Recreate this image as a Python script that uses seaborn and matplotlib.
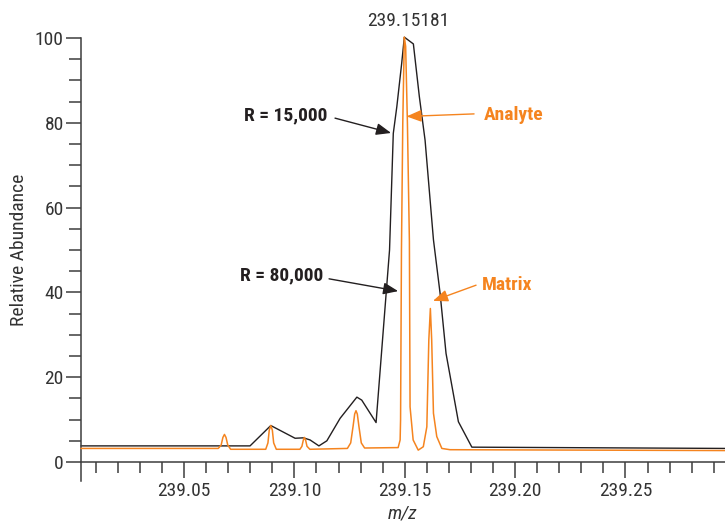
import matplotlib
matplotlib.use("Agg")
import matplotlib.pyplot as plt
import seaborn as sns
import pandas as pd
from matplotlib.ticker import FixedLocator
from matplotlib import font_manager

# ---- data ----
# R = 15,000 trace (black)
low_res_mz = [239.0033, 239.0799, 239.0893, 239.1003, 239.1041, 239.1071, 239.1111,
              239.1147, 239.1207, 239.1283, 239.1305, 239.1370, 239.1431, 239.1448,
              239.1464, 239.1486, 239.1498, 239.1539, 239.1566, 239.1592, 239.1630,
              239.1660, 239.1687, 239.1743, 239.1804, 239.2951]
low_res_abund = [3.8, 3.8, 8.6, 5.6, 5.7, 5.2, 3.8,
                 5.0, 10.3, 15.3, 14.6, 9.3, 50.0, 77.5,
                 83.8, 94.0, 100.2, 98.6, 86.2, 75.9, 52.4,
                 39.8, 25.6, 9.5, 3.5, 3.2]

# R = 80,000 trace (orange)
high_res_mz = [239.0033,
               239.0655, 239.0668, 239.0676, 239.0683, 239.0690, 239.0698, 239.0711,
               239.0870, 239.0880, 239.0886, 239.0893, 239.0900, 239.0906, 239.0918,
               239.1025, 239.1034, 239.1040, 239.1045, 239.1051, 239.1057, 239.1070,
               239.1240, 239.1255, 239.1266, 239.1273, 239.1279, 239.1285, 239.1292, 239.1303, 239.1318,
               239.1470, 239.1479, 239.1481, 239.1485, 239.1491, 239.1498, 239.1504, 239.1512,
               239.1521, 239.1524, 239.1538, 239.1561, 239.1584,
               239.1600, 239.1609, 239.1616, 239.1622, 239.1630, 239.1645, 239.1668, 239.1705,
               239.2951]
high_res_abund = [3.2,
                  3.2, 4.0, 5.8, 6.5, 5.8, 4.0, 3.0,
                  3.0, 4.5, 7.5, 8.6, 7.5, 4.5, 3.0,
                  3.0, 3.7, 5.1, 5.8, 5.1, 3.7, 3.0,
                  3.2, 4.5, 8.5, 11.3, 12.1, 11.3, 8.5, 4.5, 3.3,
                  3.4, 5.2, 10.0, 50.0, 80.0, 100.2, 98.0, 80.0,
                  52.0, 13.0, 5.2, 2.8, 3.6,
                  8.3, 28.8, 36.2, 28.8, 11.5, 6.0, 3.2, 2.9,
                  2.7]

x_major = [239.05, 239.10, 239.15, 239.20, 239.25]
x_major_labels = ["239.05", "239.10", "239.15", "239.20", "239.25"]
y_major = [0, 20, 40, 60, 80, 100]
peak_label = "239.15181"
peak_mz = 239.1518

BLACK = "#231F20"
ORANGE = "#F5841F"
AXIS = "#3d3d3d"

sns.set_style("ticks")

# pick a narrow / condensed sans face if one is installed
chosen, stretch = None, "normal"
for pref in ["Liberation Sans Narrow", "DejaVu Sans Condensed", "Roboto Condensed",
             "Open Sans Condensed", "Noto Sans Condensed"]:
    if any(f.name == pref for f in font_manager.fontManager.ttflist):
        chosen = pref
        break
if chosen is None:
    for f in font_manager.fontManager.ttflist:
        if str(f.stretch) in ("condensed", "semi-condensed", "extra-condensed") and "Sans" in f.name:
            chosen, stretch = f.name, f.stretch
            break
if chosen is None:
    chosen = "Roboto"
plt.rcParams["font.family"] = [chosen, "DejaVu Sans"]
plt.rcParams["font.stretch"] = stretch

low = pd.DataFrame({"mz": low_res_mz, "abundance": low_res_abund})
high = pd.DataFrame({"mz": high_res_mz, "abundance": high_res_abund})

fig = plt.figure(figsize=(7.25, 5.25), dpi=100)
ax = fig.add_axes([81 / 725, 1 - 462 / 525, 1 - 81 / 725, (462 - 38) / 525])

sns.lineplot(data=low, x="mz", y="abundance", sort=False, estimator=None,
             color=BLACK, lw=1.0, ax=ax, clip_on=False, zorder=2)
sns.lineplot(data=high, x="mz", y="abundance", sort=False, estimator=None,
             color=ORANGE, lw=1.1, ax=ax, clip_on=False, zorder=3)

ax.set_xlim(239.0033, 239.2951)
ax.set_ylim(0, 100)

ax.xaxis.set_major_locator(FixedLocator(x_major))
ax.set_xticklabels(x_major_labels)
ax.xaxis.set_minor_locator(FixedLocator([round(239.0 + 0.01 * i, 2) for i in range(1, 30)]))
ax.yaxis.set_major_locator(FixedLocator(y_major))
ax.yaxis.set_minor_locator(FixedLocator(list(range(0, 101, 5))))

ax.tick_params(axis="both", which="both", direction="out", color=AXIS, width=1.1,
               labelcolor="#333333", labelsize=14)
ax.tick_params(axis="x", which="major", length=11.5, pad=3)
ax.tick_params(axis="x", which="minor", length=8)
ax.tick_params(axis="y", which="major", length=11, pad=1.5)
ax.tick_params(axis="y", which="minor", length=9)

for s in ["top", "right"]:
    ax.spines[s].set_visible(False)
for s in ["left", "bottom"]:
    ax.spines[s].set_color(AXIS)
    ax.spines[s].set_linewidth(1.1)
ax.spines["left"].set_bounds(-4.4, 100)

ax.set_xlabel("m/z", fontsize=14, style="italic", color="#333333", labelpad=3)
ax.set_ylabel("Relative Abundance", fontsize=14, color="#333333", labelpad=5)

ax.text(peak_mz, 104.1, peak_label, ha="center", va="center", fontsize=14,
        color="#333333", clip_on=False)

# annotations
def note(text, tx, ty, tail, tip, color):
    ax.text(tx, ty, text, ha="center", va="center", fontsize=14, fontweight="bold", color=color)
    ax.annotate("", xy=tip, xytext=tail,
                arrowprops=dict(arrowstyle="-|>,head_length=0.75,head_width=0.3",
                                mutation_scale=12, color=color, lw=1.0,
                                shrinkA=0, shrinkB=0))

note("R = 15,000", 239.0962, 81.8, (239.1184, 81.1), (239.1438, 77.6), BLACK)
note("Analyte", 239.1991, 81.8, (239.1814, 82.1), (239.1508, 81.5), ORANGE)
note("R = 80,000", 239.0940, 43.9, (239.1157, 43.2), (239.1470, 40.3), BLACK)
note("Matrix", 239.1964, 41.7, (239.1823, 41.7), (239.1628, 38.0), ORANGE)

fig.savefig("out.png", dpi=100)
